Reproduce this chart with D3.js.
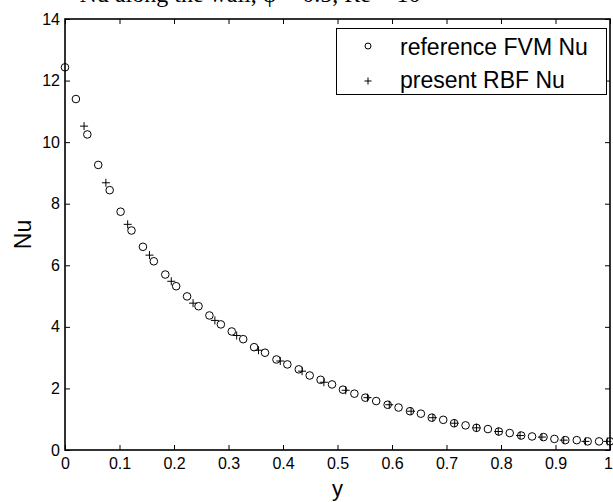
<!DOCTYPE html>
<html>
<head>
<meta charset="utf-8">
<script src="https://cdn.jsdelivr.net/npm/d3@7"></script>
<style>
  body { margin: 0; background: #fff; }
  svg { display: block; }
</style>
</head>
<body>
<svg id="nuPlot"></svg>
<script>
// data
const fvmY = [0.000, 0.020, 0.041, 0.061, 0.082, 0.102, 0.122, 0.143, 0.163, 0.184,
              0.204, 0.224, 0.245, 0.265, 0.286, 0.306, 0.327, 0.347, 0.367, 0.388,
              0.408, 0.429, 0.449, 0.469, 0.490, 0.510, 0.531, 0.551, 0.571, 0.592,
              0.612, 0.633, 0.653, 0.673, 0.694, 0.714, 0.735, 0.755, 0.776, 0.796,
              0.816, 0.837, 0.857, 0.878, 0.898, 0.918, 0.939, 0.959, 0.980, 1.000];
const fvmNu = [12.43, 11.40, 10.25, 9.26, 8.44, 7.74, 7.13, 6.60, 6.13, 5.70,
               5.32, 4.99, 4.67, 4.37, 4.08, 3.85, 3.60, 3.34, 3.16, 2.94,
               2.78, 2.62, 2.42, 2.28, 2.13, 1.96, 1.83, 1.70, 1.59, 1.47,
               1.38, 1.26, 1.18, 1.05, 0.98, 0.87, 0.80, 0.72, 0.68, 0.60,
               0.55, 0.47, 0.44, 0.42, 0.36, 0.32, 0.32, 0.28, 0.28, 0.28];

const rbfY = [0.035, 0.075, 0.115, 0.155, 0.195, 0.235, 0.275, 0.315, 0.355, 0.395,
              0.435, 0.475, 0.515, 0.555, 0.595, 0.635, 0.675, 0.715, 0.755, 0.795,
              0.835, 0.875, 0.915, 0.955, 0.995];
const rbfNu = [10.52, 8.68, 7.33, 6.33, 5.48, 4.77, 4.21, 3.72, 3.24, 2.89,
               2.56, 2.20, 1.94, 1.70, 1.47, 1.26, 1.05, 0.87, 0.72, 0.60,
               0.47, 0.42, 0.32, 0.28, 0.28];

const xTicks = [0, 0.1, 0.2, 0.3, 0.4, 0.5, 0.6, 0.7, 0.8, 0.9, 1];
const yTicks = [0, 2, 4, 6, 8, 10, 12, 14];
const legendLabels = ['reference FVM Nu', 'present RBF Nu'];

const width = 613, height = 502;
const margin = {left: 65, right: 3, top: 19, bottom: 52};
const font = 'Arial, "Liberation Sans", Helvetica, sans-serif';

const svg = d3.select('#nuPlot')
    .attr('width', width)
    .attr('height', height);

const xScale = d3.scaleLinear()
    .domain([0, 1])
    .range([margin.left, width - margin.right]);

const yScale = d3.scaleLinear()
    .domain([0, 14])
    .range([height - margin.bottom, margin.top]);

// title sits mostly above the top edge in the original, only its foot shows
svg.append('text')
    .attr('x', 250)
    .attr('y', 2)
    .attr('text-anchor', 'middle')
    .style('font-family', '"Liberation Serif", "Times New Roman", serif')
    .style('font-size', '24px')
    .text('Nu along the wall, φ = 0.5, Re = 10');

// axes, ticks pointing inwards like matlab
const tickLen = 5;
const axBottom = svg.append('g')
    .attr('transform', `translate(0,${yScale(0)})`)
    .call(d3.axisBottom(xScale).tickValues(xTicks).tickSize(-tickLen).tickPadding(8)
        .tickFormat(d3.format('~g')));
const axTop = svg.append('g')
    .attr('transform', `translate(0,${yScale(14)})`)
    .call(d3.axisTop(xScale).tickValues(xTicks).tickSize(-tickLen).tickFormat(''));
const axLeft = svg.append('g')
    .attr('transform', `translate(${xScale(0)},0)`)
    .call(d3.axisLeft(yScale).tickValues(yTicks).tickSize(-tickLen).tickPadding(5));
const axRight = svg.append('g')
    .attr('transform', `translate(${xScale(1)},0)`)
    .call(d3.axisRight(yScale).tickValues(yTicks).tickSize(-tickLen).tickFormat(''));

[axBottom, axTop, axLeft, axRight].forEach(g => {
    g.select('.domain').remove();
    g.selectAll('line').attr('stroke', '#000').attr('stroke-width', 1);
    g.selectAll('text')
        .attr('fill', '#000')
        .style('font-family', font)
        .style('font-size', '16px');
});
// last x label would run off the page edge
axBottom.selectAll('text').filter(d => d === 1).attr('dx', -2);

svg.append('rect')
    .attr('x', xScale(0))
    .attr('y', yScale(14))
    .attr('width', xScale(1) - xScale(0))
    .attr('height', yScale(0) - yScale(14))
    .attr('fill', 'none')
    .attr('stroke', '#000')
    .attr('stroke-width', 1.6);

// axis labels
svg.append('text')
    .attr('x', (xScale(0) + xScale(1)) / 2)
    .attr('y', 496)
    .attr('text-anchor', 'middle')
    .style('font-family', font)
    .style('font-size', '22px')
    .text('y');

svg.append('text')
    .attr('transform', `translate(31,${(yScale(0) + yScale(14)) / 2}) rotate(-90)`)
    .attr('text-anchor', 'middle')
    .style('font-family', font)
    .style('font-size', '23px')
    .text('Nu');

// markers
const plusPath = s => `M${-s},0H${s}M0,${-s}V${s}`;

svg.append('g')
    .selectAll('circle')
    .data(fvmY)
    .enter()
    .append('circle')
    .attr('cx', d => xScale(d))
    .attr('cy', (d, i) => yScale(fvmNu[i]))
    .attr('r', 3.8)
    .attr('fill', 'none')
    .attr('stroke', '#000')
    .attr('stroke-width', 1);

svg.append('g')
    .selectAll('path')
    .data(rbfY)
    .enter()
    .append('path')
    .attr('transform', (d, i) => `translate(${xScale(d)},${yScale(rbfNu[i])})`)
    .attr('d', plusPath(4))
    .attr('fill', 'none')
    .attr('stroke', '#000')
    .attr('stroke-width', 1);

// legend
const legend = svg.append('g');
legend.append('rect')
    .attr('x', 336.5)
    .attr('y', 28.5)
    .attr('width', 270)
    .attr('height', 66)
    .attr('fill', '#fff')
    .attr('stroke', '#000')
    .attr('stroke-width', 1);

legend.append('circle')
    .attr('cx', 368)
    .attr('cy', 46)
    .attr('r', 3)
    .attr('fill', 'none')
    .attr('stroke', '#000');
legend.append('path')
    .attr('transform', 'translate(368,81)')
    .attr('d', plusPath(3.5))
    .attr('stroke', '#000');

legend.selectAll('text')
    .data(legendLabels)
    .enter()
    .append('text')
    .attr('x', 400)
    .attr('y', (d, i) => 55 + i * 33)
    .style('font-family', font)
    .style('font-size', '23px')
    .text(d => d);
</script>
</body>
</html>
